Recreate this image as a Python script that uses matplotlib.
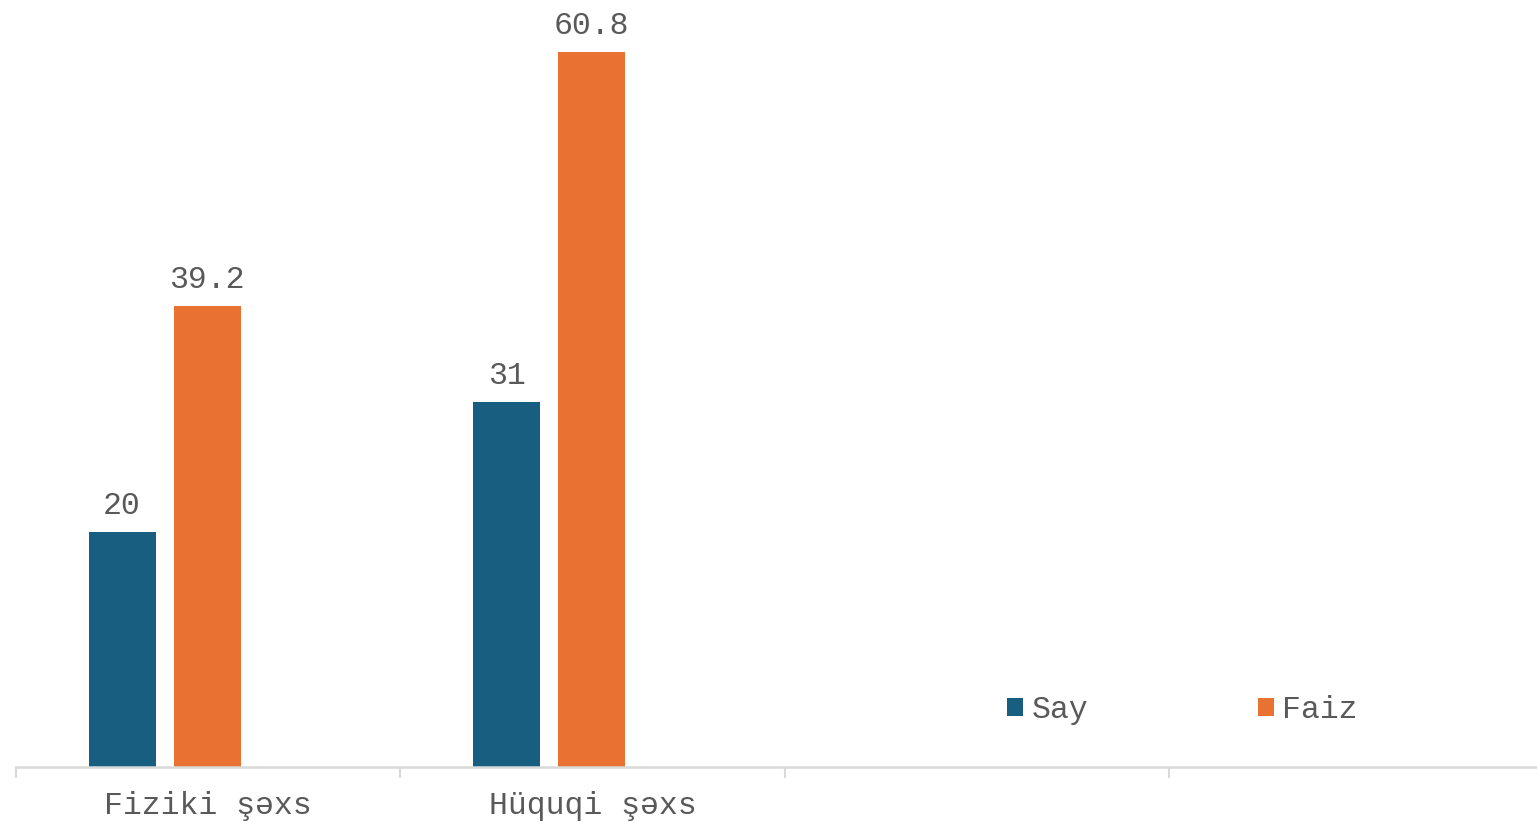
import matplotlib
matplotlib.use("Agg")
import matplotlib.pyplot as plt
import numpy as np

categories = ["Fiziki şəxs", "Hüquqi şəxs", "", ""]
say = [20, 31]
faiz = [39.2, 60.8]
series_names = ["Say", "Faiz"]
colors = ["#175E80", "#E97132"]
text_color = "#595959"

plt.rcParams['font.family'] = ['Liberation Mono', 'DejaVu Sans Mono']
FS = 22.7

fig = plt.figure(figsize=(15.37, 8.22), dpi=100)
W, H = 1537, 822
ax = fig.add_axes([16 / W, (H - 767) / H, (W - 16) / W, 767 / H])

width = 0.174
offset = 0.221
x = np.arange(len(say))
bars_say = ax.bar(x - offset - 0.003, say, width, color=colors[0], label=series_names[0], zorder=2)
bars_faiz = ax.bar(x - 0.003, faiz, width, color=colors[1], label=series_names[1], zorder=2)

for bars, vals in ((bars_say, say), (bars_faiz, faiz)):
    for b, v in zip(bars, vals):
        ax.annotate(f"{v:g}", (b.get_x() + b.get_width() / 2, b.get_height()),
                    xytext=(0, 8), textcoords="offset points", ha="center", va="bottom",
                    fontsize=FS, color=text_color)

ax.set_xlim(-0.5, -0.5 + (W - 16) / 384.5)
ax.set_ylim(0, 767 / (715 / 60.8))

for s in ["top", "right", "left"]:
    ax.spines[s].set_visible(False)
ax.spines["bottom"].set_color("#D9D9D9")
ax.spines["bottom"].set_linewidth(1.8)
ax.set_yticks([])

ax.set_xticks(np.arange(len(categories)) - 0.5)
ax.set_xticklabels([])
ax.tick_params(axis="x", which="major", length=8, width=1.5, color="#D9D9D9")
ax.set_xticks(np.arange(len(categories)), minor=True)
ax.set_xticklabels(categories, minor=True, fontsize=FS, color=text_color)
ax.tick_params(axis="x", which="minor", length=0, pad=17)

leg = ax.legend(loc="center left", bbox_to_anchor=(1007 / W, (H - 710) / H),
                bbox_transform=fig.transFigure, ncol=2, frameon=False,
                fontsize=FS, handlelength=0.52, handleheight=0.52,
                handletextpad=0.25, columnspacing=5.38, borderpad=0, borderaxespad=0)
for t in leg.get_texts():
    t.set_color(text_color)

fig.savefig("out.png", dpi=100)
